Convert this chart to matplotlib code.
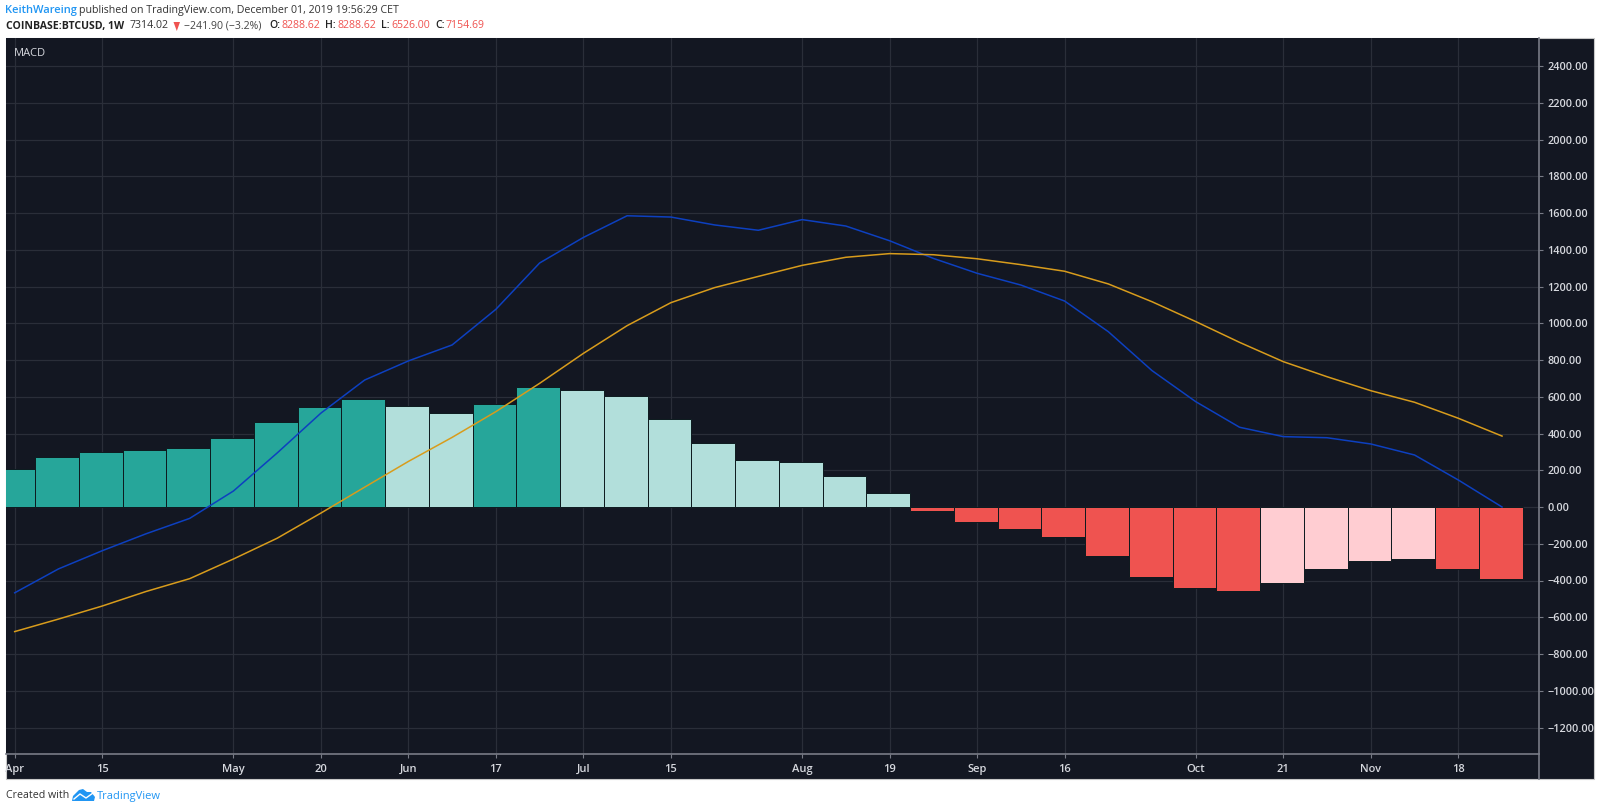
import matplotlib
matplotlib.use('Agg')
import matplotlib.pyplot as plt
from matplotlib.patches import Rectangle, Polygon

plt.rcParams['font.family'] = ['Open Sans', 'DejaVu Sans']

tick_pos = [0, 2, 5, 7, 9, 11, 13, 15, 18, 20, 22, 24, 27, 29, 31, 33]
tick_labels = ['Apr', '15', 'May', '20', 'Jun', '17', 'Jul', '15', 'Aug', '19', 'Sep', '16', 'Oct', '21', 'Nov', '18']
y_ticks = list(range(-1200, 2401, 200))

hist = [208, 272, 300, 310, 321, 377, 464, 543, 587, 550, 510, 560, 651, 638, 604, 480, 348, 257,
        247, 170, 76, -22, -80, -120, -161, -265, -383, -439, -459, -412, -336, -294, -281, -336, -390]
macd = [-467, -337, -238, -146, -62, 87, 294, 511, 691, 795, 882, 1076, 1328, 1467, 1585, 1578, 1535, 1506,
        1564, 1529, 1449, 1353, 1272, 1208, 1121, 954, 742, 573, 434, 383, 377, 343, 283, 147, 0]
signal = [-678, -610, -539, -460, -390, -283, -170, -33, 108, 248, 379, 519, 673, 836, 987, 1112, 1194, 1255,
          1315, 1359, 1379, 1373, 1351, 1319, 1283, 1214, 1117, 1009, 896, 791, 709, 633, 570, 483, 386]

DARK_GREEN = '#26a69a'
LIGHT_GREEN = '#b2dfdb'
RED = '#ef5350'
PINK = '#ffcdd2'
BG = '#131722'
GRID = '#2a2e39'
bar_colors = [DARK_GREEN] * 9 + [LIGHT_GREEN] * 2 + [DARK_GREEN] * 2 + [LIGHT_GREEN] * 8 + \
             [RED] * 8 + [PINK] * 4 + [RED] * 2

W, H = 1600, 811
fig = plt.figure(figsize=(W / 100, H / 100), dpi=100, facecolor='white')


def fx(x):
    return x / W


def fy(y):
    return 1 - y / H


# dark panel behind plot and axis strips
fig.patches.append(Rectangle((fx(5.5), fy(779)), fx(1594 - 5.5), (779 - 38) / H, transform=fig.transFigure,
                             facecolor=BG, edgecolor='#c8c8c8', lw=0.8, zorder=-1))

ax = fig.add_axes([fx(5.5), fy(754.3), fx(1539 - 5.5), (754.3 - 38) / H])
ax.set_facecolor(BG)

# x px = 14.7 + 43.745 * i , y px = 507 - 0.18375 * v
ax.set_xlim((5.5 - 14.7) / 43.745, (1539 - 14.7) / 43.745)
ax.set_ylim((507 - 754.3) / 0.18375, (507 - 38) / 0.18375)

ax.set_axisbelow(True)
ax.grid(True, color=GRID, lw=0.9)
ax.bar([i - 0.03 for i in range(len(hist))], hist, width=1.0, color=bar_colors, edgecolor='#0d1a1f', lw=0.7, zorder=2)
ax.plot(range(len(macd)), macd, color='#0d40c0', lw=1.1, zorder=3)
ax.plot(range(len(signal)), signal, color='#d89c1c', lw=1.1, zorder=3)

ax.set_xticks(tick_pos)
ax.set_xticklabels(tick_labels, va='baseline')
ax.set_yticks(y_ticks)
ax.set_yticklabels([f'{v:.2f}'.replace('-', '\u2212') for v in y_ticks])
ax.yaxis.tick_right()
ax.tick_params(axis='x', colors='#d6d8de', labelsize=8, length=3, width=0.8, color='#787b86', pad=10)
ax.tick_params(axis='y', colors='#d6d8de', labelsize=7.8, length=3, width=0.8, color='#787b86', pad=3)
for lab in ax.get_xticklabels() + ax.get_yticklabels():
    lab.set_fontweight('semibold')

for name in ['top', 'left']:
    ax.spines[name].set_visible(False)
ax.spines['right'].set_color('#787b86')
ax.spines['bottom'].set_color('#787b86')
ax.spines['right'].set_linewidth(1.2)
ax.spines['bottom'].set_linewidth(1.2)
fig.add_artist(plt.Line2D([fx(1539), fx(1539)], [fy(754), fy(779)], color='#787b86', lw=1.2))

fig.text(fx(14), fy(53), 'MACD', color='#d6d8de', fontsize=8, va='center')

# header lines
fig.text(fx(5.5), fy(11), 'KeithWareing', color='#2196f3', fontsize=8, va='center', fontweight='semibold')
fig.text(fx(79), fy(11), 'published on TradingView.com, December 01, 2019 19:56:29 CET', color='#333333', fontsize=7.7, va='center')

y2 = 26
pieces = [(5.5, 'COINBASE:BTCUSD, 1W', '#222222', 'bold'),
          (130, '7314.02', '#333333', 'normal'),
          (184, '\u2212241.90 (\u22123.2%)', '#444444', 'normal'),
          (269, 'O:', '#222222', 'semibold'),
          (281, '8288.62', '#ef5350', 'normal'),
          (325, 'H:', '#222222', 'semibold'),
          (337, '8288.62', '#ef5350', 'normal'),
          (381, 'L:', '#222222', 'semibold'),
          (391, '6526.00', '#ef5350', 'normal'),
          (435, 'C:', '#222222', 'semibold'),
          (445, '7154.69', '#ef5350', 'normal')]
for x, s, c, w in pieces:
    fig.text(fx(x), fy(y2), s, color=c, fontsize=7.6, va='center', fontweight=w)
fig.patches.append(Polygon([(fx(173.5), fy(22)), (fx(180), fy(22)), (fx(176.8), fy(31))], closed=True,
                           transform=fig.transFigure, facecolor='#ef5350', edgecolor='none'))

# footer
fig.text(fx(5.5), fy(796), 'Created with', color='#333333', fontsize=7.7, va='center')
fig.patches.append(Polygon([(fx(72), fy(801)), (fx(73), fy(796)), (fx(79), fy(790)), (fx(83), fy(789)), (fx(87), fy(792)),
                            (fx(91), fy(792)), (fx(95), fy(797)), (fx(94), fy(801))], closed=True,
                           transform=fig.transFigure, facecolor='#2196f3', edgecolor='none'))
fig.add_artist(plt.Line2D([fx(74), fx(80), fx(86), fx(93)], [fy(799), fy(794), fy(798), fy(793)], color='white', lw=1))
fig.text(fx(96.5), fy(796), 'TradingView', color='#2196f3', fontsize=8, va='center')

fig.savefig('out.png', dpi=100, facecolor='white')
